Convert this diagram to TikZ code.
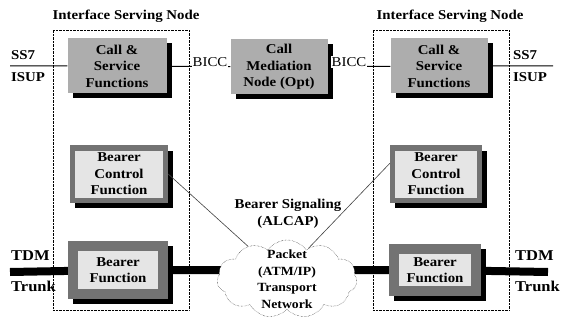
\documentclass[tikz,border=0pt]{standalone}
\usepackage{fontspec}
\setmainfont{Liberation Serif}[FakeStretch=1.1]
\usepackage{tikz}
\usetikzlibrary{shapes.symbols, backgrounds}
\tikzset{>=stealth}
\tikzset{
  callbox/.style={rectangle,fill=black!32,align=center,minimum width=99pt,minimum height=55pt,inner sep=2pt},
  bearerbox/.style={rectangle,fill=black!55,align=center,minimum width=98pt,minimum height=57pt,inner sep=2pt,
    path picture={\fill[black!10] ([shift={(#1,#1)}]path picture bounding box.south west)
      rectangle ([shift={(-#1,-#1)}]path picture bounding box.north east);}},
  shadowbox/.style={rectangle,fill=black,inner sep=0pt},
  isnbox/.style={rectangle,draw,densely dotted,minimum width=136pt,minimum height=280pt},
  sigline/.style={draw=black!75,line width=0.6pt},
  trunkline/.style={line width=8pt}
}

\begin{document}
\begin{tikzpicture}[x=1pt,y=-1pt,font=\fontsize{13.5}{16.5}\selectfont\bfseries]
      \useasboundingbox (0,0) rectangle (561,323);
      % interface serving nodes
      \node (isnL) at (121,170)[isnbox] {};
      \node (isnR) at (441,170)[isnbox] {};
      \node (titleL) at (126,16) {Interface Serving Node};
      \node (titleR) at (450,16) {Interface Serving Node};
      % shadows
      \node (csLsh) at (122,71)[shadowbox,minimum width=99pt,minimum height=55pt] {};
      \node (medsh) at (284,72)[shadowbox,minimum width=97pt,minimum height=55pt] {};
      \node (csRsh) at (444,71)[shadowbox,minimum width=97pt,minimum height=55pt] {};
      \node (bcLsh) at (124,179)[shadowbox,minimum width=98pt,minimum height=57pt] {};
      \node (bcRsh) at (441,179)[shadowbox,minimum width=92pt,minimum height=57pt] {};
      \node (bfLsh) at (123,275)[shadowbox,minimum width=100pt,minimum height=58pt] {};
      \node (bfRsh) at (440,275)[shadowbox,minimum width=92pt,minimum height=52pt] {};
      % call control row
      \node (csL) at (117,66)[callbox] {Call \&\\Service\\Functions};
      \node (med) at (279,67)[callbox,minimum width=97pt] {Call\\Mediation\\Node (Opt)};
      \node (csR) at (439,66)[callbox,minimum width=97pt] {Call \&\\Service\\Functions};
      \node (bicL) at (210,62)[fill=white,inner sep=1pt,font=\fontsize{13.5}{16}\selectfont] {BICC};
      \node (bicR) at (349,62)[fill=white,inner sep=1pt,font=\fontsize{13.5}{16}\selectfont] {BICC};
      \coordinate (ss7L) at (10,66);
      \coordinate (ss7R) at (553,66);
      \node (ss7Lt) at (11,55)[anchor=west,inner sep=0pt] {SS7};
      \node (isupL) at (11,77)[anchor=west,inner sep=0pt] {ISUP};
      \node (ss7Rt) at (513,55)[anchor=west,inner sep=0pt] {SS7};
      \node (isupR) at (513,77)[anchor=west,inner sep=0pt] {ISUP};
      % bearer row
      \node (bcL) at (119,174)[bearerbox=5pt] {Bearer\\Control\\Function};
      \node (bcR) at (436,174)[bearerbox=5pt,minimum width=92pt] {Bearer\\Control\\Function};
      \node (bfL) at (118,270)[bearerbox=10pt,minimum width=100pt,minimum height=58pt] {Bearer\\Function};
      \node (bfR) at (435,270)[bearerbox=10pt,minimum width=92pt,minimum height=52pt] {Bearer\\Function};
      \node (net) at (287,279)[cloud,cloud puffs=11,cloud puff arc=110,aspect=1.8,draw,densely dotted,
        fill=white,minimum width=140pt,minimum height=78pt] {};
      \node (nettext) at (net.center)[align=center,font=\fontsize{12.5}{16.5}\selectfont\bfseries] {Packet\\(ATM/IP)\\Transport\\Network};
      \node (sig) at (288,214)[align=center] {Bearer Signaling\\(ALCAP)};
      \coordinate (tdmL) at (10,272);
      \coordinate (tdmR) at (548,272);
      \node (tdmLt) at (11,256)[anchor=west,inner sep=0pt,font=\fontsize{15}{17}\selectfont\bfseries] {TDM};
      \node (trkL) at (11,286)[anchor=west,inner sep=0pt,font=\fontsize{15}{17}\selectfont\bfseries] {Trunk};
      \node (tdmRt) at (515,256)[anchor=west,inner sep=0pt,font=\fontsize{15}{17}\selectfont\bfseries] {TDM};
      \node (trkR) at (515,286)[anchor=west,inner sep=0pt,font=\fontsize{15}{17}\selectfont\bfseries] {Trunk};
      \begin{pgfonlayer}{background}
        \draw [line width=1pt] (ss7L) -- (csL) -- (med) -- (csR) -- (ss7R);
        \draw [trunkline] (tdmL) -- (bfL.center) -- (bfR.center) -- (tdmR);
      \end{pgfonlayer}
      \draw [sigline] (bcL.east) -- (net.140);
      \draw [sigline] (net.55) -- (bcR.167);
\end{tikzpicture}
\end{document}
